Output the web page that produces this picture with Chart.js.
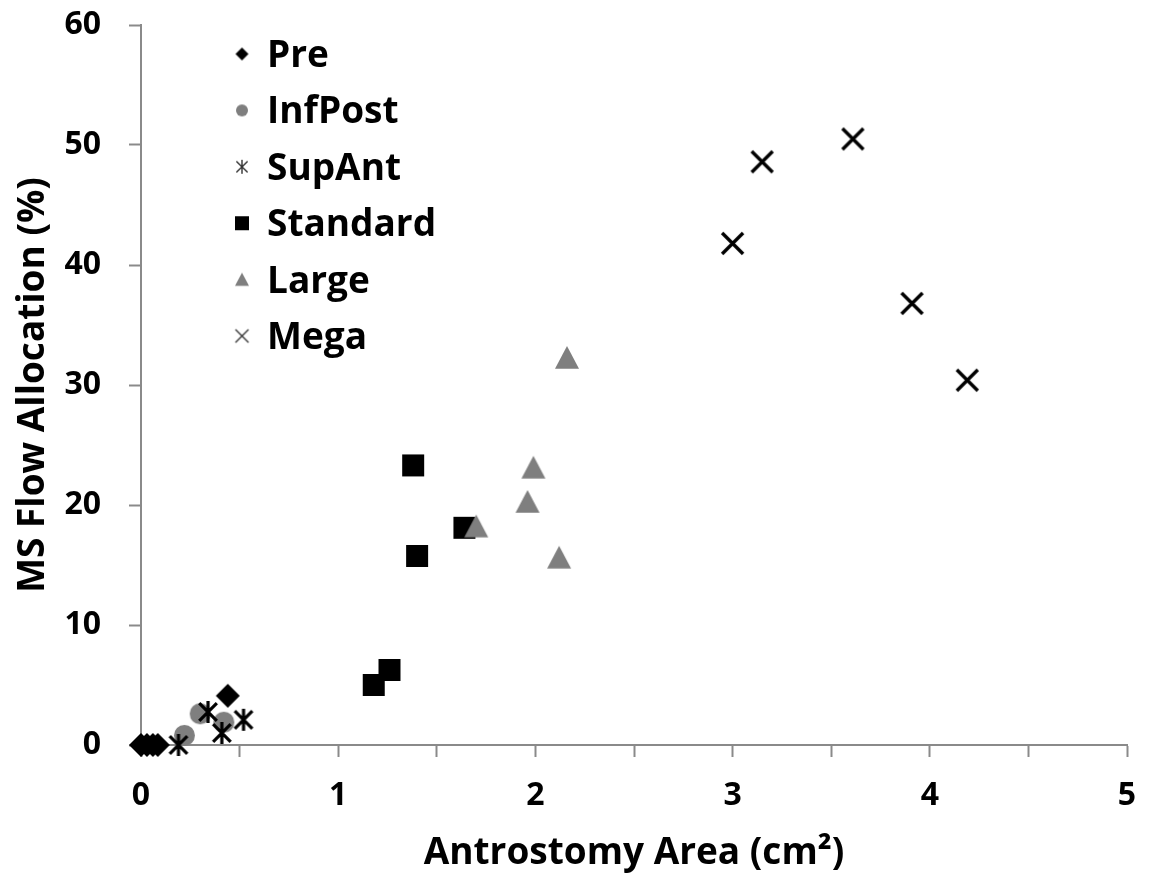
<!DOCTYPE html>
<html>
<head>
<meta charset="utf-8">
<script src="https://cdn.jsdelivr.net/npm/chart.js@4/dist/chart.umd.min.js"></script>
<style>
  html, body { margin: 0; padding: 0; background: #fff; }
  #wrap { width: 1149px; height: 885px; }
</style>
</head>
<body>
<div id="wrap"><canvas id="scatter-chart"></canvas></div>
<script>
// values
const seriesNames = ["Pre", "InfPost", "SupAnt", "Standard", "Large", "Mega"];

const preX = [0, 0.03, 0.06, 0.085, 0.44];
const preY = [0, 0, 0, 0, 4.1];

const infPostX = [0.22, 0.30, 0.42];
const infPostY = [0.8, 2.6, 1.9];

const supAntX = [0.19, 0.34, 0.41, 0.52];
const supAntY = [0, 2.75, 1.0, 2.1];

const standardX = [1.18, 1.26, 1.38, 1.40, 1.64];
const standardY = [5.0, 6.25, 23.3, 15.75, 18.1];

const largeX = [1.70, 1.96, 1.99, 2.12, 2.16];
const largeY = [18.2, 20.25, 23.1, 15.6, 32.25];

const megaX = [3.0, 3.15, 3.61, 3.91, 4.19];
const megaY = [41.8, 48.6, 50.5, 36.8, 30.4];

const xTickLabels = [0, 1, 2, 3, 4, 5];
const yTickLabels = [0, 10, 20, 30, 40, 50, 60];

const BLACK = "#000000";
const GREY = "#7f7f7f";
const AXIS = "#8a8a8a";
const FONT = "'Open Sans'";

function makeMarker(kind, size, color, lw) {
  const pad = 3;
  const s = Math.ceil(size + pad * 2);
  const c = document.createElement("canvas");
  c.width = s;
  c.height = s;
  const g = c.getContext("2d");
  const m = s / 2;
  const h = size / 2;
  g.fillStyle = color;
  g.strokeStyle = color;
  g.lineWidth = lw || 1;
  g.beginPath();
  if (kind === "diamond") {
    g.moveTo(m, m - h);
    g.lineTo(m + h, m);
    g.lineTo(m, m + h);
    g.lineTo(m - h, m);
    g.closePath();
    g.fill();
  } else if (kind === "circle") {
    g.arc(m, m, h, 0, Math.PI * 2);
    g.fill();
  } else if (kind === "square") {
    g.rect(m - h, m - h, size, size);
    g.fill();
  } else if (kind === "triangle") {
    g.moveTo(m, m - h);
    g.lineTo(m + h, m + h * 0.9);
    g.lineTo(m - h, m + h * 0.9);
    g.closePath();
    g.fill();
  } else if (kind === "asterisk") {
    const d = h * 0.8;
    g.moveTo(m, m - h);
    g.lineTo(m, m + h);
    g.moveTo(m - d, m - d);
    g.lineTo(m + d, m + d);
    g.moveTo(m + d, m - d);
    g.lineTo(m - d, m + d);
    g.stroke();
  } else if (kind === "x") {
    g.moveTo(m - h, m - h);
    g.lineTo(m + h, m + h);
    g.moveTo(m + h, m - h);
    g.lineTo(m - h, m + h);
    g.stroke();
  }
  return c;
}

const plotMarkers = [
  makeMarker("diamond", 24, BLACK),
  makeMarker("circle", 21, GREY),
  makeMarker("asterisk", 22, BLACK, 3.2),
  makeMarker("square", 22, BLACK),
  makeMarker("triangle", 24, GREY),
  makeMarker("x", 21, BLACK, 3.4)
];

const legendMarkers = [
  makeMarker("diamond", 13, BLACK),
  makeMarker("circle", 12, GREY),
  makeMarker("asterisk", 14, "#333333", 1.4),
  makeMarker("square", 14, BLACK),
  makeMarker("triangle", 14, GREY),
  makeMarker("x", 13, "#333333", 1.4)
];

function toPoints(xs, ys) {
  return xs.map(function (x, i) {
    return { x: x, y: ys[i] };
  });
}

const seriesData = [
  toPoints(preX, preY),
  toPoints(infPostX, infPostY),
  toPoints(supAntX, supAntY),
  toPoints(standardX, standardY),
  toPoints(largeX, largeY),
  toPoints(megaX, megaY)
];

// legend sits inside the plot, top left
const insideLegend = {
  id: "insideLegend",
  afterDraw: function (chart) {
    const ctx = chart.ctx;
    const left = chart.chartArea.left;
    ctx.save();
    ctx.font = "bold 37px " + FONT;
    ctx.fillStyle = "#000";
    ctx.textBaseline = "alphabetic";
    seriesNames.forEach(function (name, i) {
      const y = 54 + i * 56.4;
      const mk = legendMarkers[i];
      ctx.drawImage(mk, left + 101 - mk.width / 2, y - mk.height / 2);
      ctx.fillText(name, left + 126, y + 13);
    });
    ctx.restore();
  }
};

const tickFont = { family: FONT, size: 32, weight: "bold" };
const titleFont = { family: FONT, size: 37, weight: "bold" };

document.addEventListener("DOMContentLoaded", function () {
  new Chart(document.getElementById("scatter-chart"), {
    type: "scatter",
    data: {
      datasets: seriesNames.map(function (name, i) {
        return {
          label: name,
          data: seriesData[i],
          pointStyle: plotMarkers[i],
          pointRadius: 10,
          clip: false,
          order: seriesNames.length - i
        };
      })
    },
    options: {
      responsive: true,
      maintainAspectRatio: false,
      animation: false,
      layout: { padding: { top: 25, right: 22, left: 0, bottom: 0 } },
      plugins: {
        legend: { display: false },
        tooltip: { enabled: false }
      },
      scales: {
        x: {
          type: "linear",
          min: xTickLabels[0],
          max: xTickLabels[xTickLabels.length - 1],
          afterFit: function (scale) {
            scale.height = 140;
            scale.paddingLeft = 0;
            scale.paddingRight = 0;
          },
          border: { display: true, color: AXIS, width: 2 },
          grid: { drawOnChartArea: false, drawTicks: true, tickLength: 12, tickColor: AXIS, tickWidth: 2 },
          ticks: {
            stepSize: 0.5,
            autoSkip: false,
            maxRotation: 0,
            padding: 20,
            color: "#000",
            font: tickFont,
            callback: function (v) {
              return xTickLabels.indexOf(v) >= 0 ? String(v) : "";
            }
          },
          title: {
            display: true,
            text: "Antrostomy Area (cm²)",
            color: "#000",
            font: titleFont,
            padding: { top: 0, bottom: 9 }
          }
        },
        y: {
          type: "linear",
          min: yTickLabels[0],
          max: yTickLabels[yTickLabels.length - 1],
          afterFit: function (scale) {
            scale.width = 141;
            scale.paddingTop = 0;
            scale.paddingBottom = 0;
          },
          border: { display: true, color: AXIS, width: 2 },
          grid: { drawOnChartArea: false, drawTicks: true, tickLength: 12, tickColor: AXIS, tickWidth: 2 },
          ticks: {
            stepSize: 10,
            padding: 28,
            color: "#000",
            font: tickFont
          },
          title: {
            display: true,
            text: "MS Flow Allocation (%)",
            color: "#000",
            font: titleFont,
            padding: { top: 11, bottom: 11 }
          }
        }
      }
    },
    plugins: [insideLegend]
  });
});
</script>
</body>
</html>
